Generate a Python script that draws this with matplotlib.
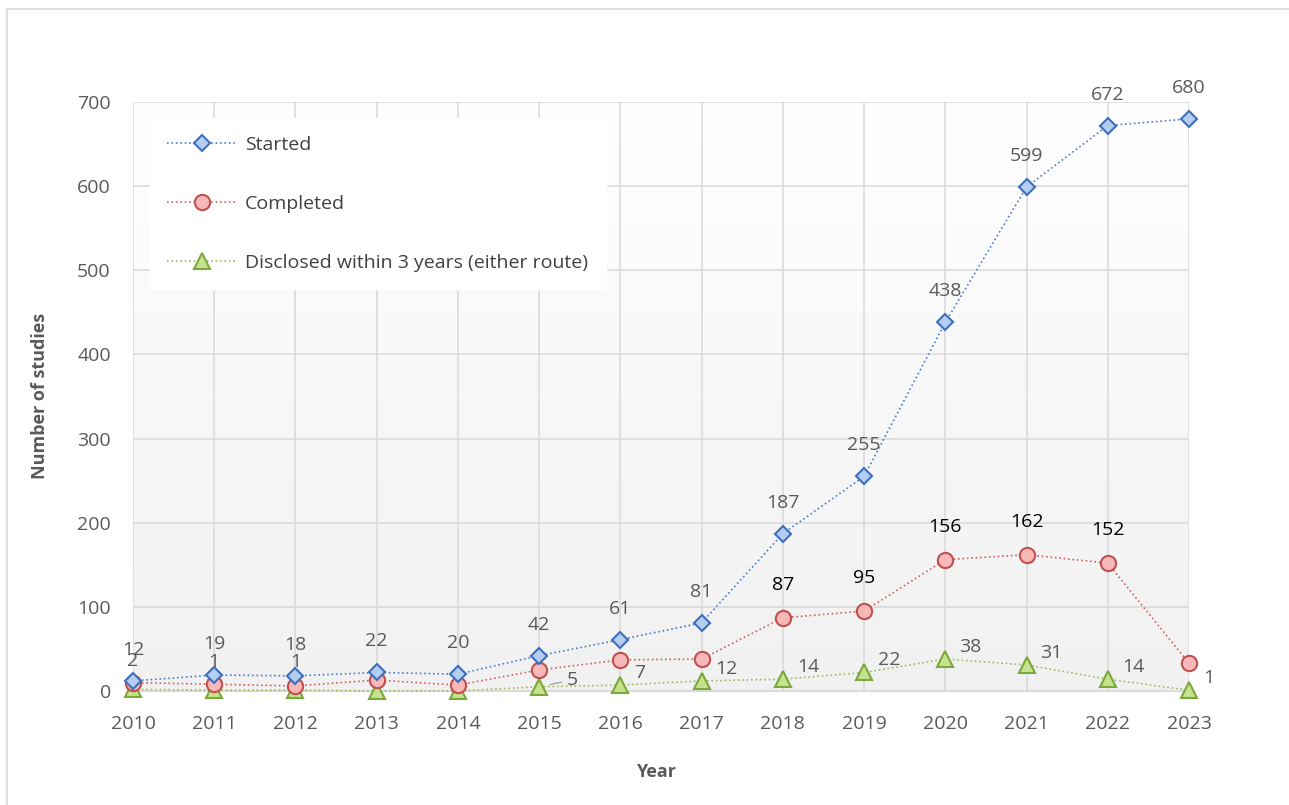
import numpy as np
import matplotlib
matplotlib.use("Agg")
import matplotlib.pyplot as plt
from matplotlib.lines import Line2D

years = [2010, 2011, 2012, 2013, 2014, 2015, 2016, 2017, 2018, 2019, 2020, 2021, 2022, 2023]
started = [12, 19, 18, 22, 20, 42, 61, 81, 187, 255, 438, 599, 672, 680]
completed = [10, 8, 6, 13, 7, 25, 37, 38, 87, 95, 156, 162, 152, 33]
disclosed = [2, 1, 1, 0, 0, 5, 7, 12, 14, 22, 38, 31, 14, 1]
completed_labelled_years = [2018, 2019, 2020, 2021, 2022]
disclosed_above_years = [2010, 2011, 2012]
disclosed_hidden_years = [2013, 2014]
yticks = [0, 100, 200, 300, 400, 500, 600, 700]
series_names = ["Started", "Completed", "Disclosed within 3 years (either route)"]

plt.rcParams['font.family'] = ['Open Sans', 'DejaVu Sans']
W, H = 1289, 805
fig = plt.figure(figsize=(W / 100, H / 100), dpi=100)
ax = fig.add_axes([133 / W, 1 - 691 / H, (1189 - 133) / W, (691 - 102) / H])

# frame lines of chart area
fig.add_artist(Line2D([7 / W, 7 / W], [0, 1 - 9 / H], color='#d9d9d9', lw=1.2))
fig.add_artist(Line2D([7 / W, 1], [1 - 9 / H, 1 - 9 / H], color='#d9d9d9', lw=1.2))

# gradient background
grad = np.linspace(1, 0, 256).reshape(-1, 1)
top = np.array([1.0, 1.0, 1.0])
bot = np.array([0.945, 0.945, 0.945])
img = top[None, None, :] * grad[:, :, None] + bot[None, None, :] * (1 - grad[:, :, None])
ax.imshow(img, extent=[years[0], years[-1], 0, 700], aspect='auto', zorder=0, origin='upper')

ax.set_xlim(years[0], years[-1])
ax.set_ylim(0, 700)
ax.set_xticks(years)
ax.set_yticks(yticks)
ax.grid(True, color='#d9d9d9', lw=1.1, zorder=1)
for s in ax.spines.values():
    s.set_visible(False)
ax.spines['bottom'].set_visible(True)
ax.spines['bottom'].set_color('#d9d9d9')
ax.tick_params(length=0, labelsize=14, labelcolor='#595959')
ax.tick_params(axis='x', pad=17)
ax.tick_params(axis='y', pad=16)

blue_line, blue_edge, blue_face = '#4a7ccc', '#3e6fbf', '#b4cdf0'
red_line, red_edge, red_face = '#d06060', '#c0504d', '#f8b8b8'
green_line, green_edge, green_face = '#9bbb59', '#7aa83a', '#c6e28e'

ax.plot(years, disclosed, ls=':', lw=1.2, color=green_line, marker='^', ms=11,
        mfc=green_face, mec=green_edge, mew=1.5, clip_on=False, zorder=3, label=series_names[2])
ax.plot(years, completed, ls=':', lw=1.2, color=red_line, marker='o', ms=11,
        mfc=red_face, mec=red_edge, mew=1.5, clip_on=False, zorder=4, label=series_names[1])
ax.plot(years, started, ls=':', lw=1.2, color=blue_line, marker='D', ms=8,
        mfc=blue_face, mec=blue_edge, mew=1.5, clip_on=False, zorder=5, label=series_names[0])

lab = dict(fontsize=14, color='#595959', textcoords='offset pixels', annotation_clip=False, zorder=6)
for x, v in zip(years, started):
    ax.annotate(str(v), (x, v), xytext=(0, 31), ha='center', va='center', **lab)
for x, v in zip(years, completed):
    if x in completed_labelled_years:
        ax.annotate(str(v), (x, v), xytext=(0, 33), ha='center', va='center',
                    fontsize=14, color='black', textcoords='offset pixels', zorder=6)
for x, v in zip(years, disclosed):
    if x in disclosed_hidden_years:
        continue
    if x in disclosed_above_years:
        ax.annotate(str(v), (x, v), xytext=(0, 28), ha='center', va='center', **lab)
    elif x == 2015:
        ax.annotate(str(v), (x, v), xytext=(28, 7), ha='left', va='center',
                    arrowprops=dict(arrowstyle='-', color='#a6a6a6', lw=1,
                                    shrinkA=2, shrinkB=8), **lab)
    else:
        ax.annotate(str(v), (x, v), xytext=(14, 12), ha='left', va='center', **lab)

leg = ax.legend(handles=ax.get_lines()[::-1], loc='upper left', bbox_to_anchor=(0.016, 0.972),
                frameon=True, fancybox=False, edgecolor='white', facecolor='white', framealpha=1,
                fontsize=14, labelspacing=2.1, handlelength=3.6, borderpad=0.9,
                handletextpad=0.4, borderaxespad=0)
for t in leg.get_texts():
    t.set_color('#404040')
leg.set_zorder(10)

fig.text(40 / W, 1 - 396 / H, 'Number of studies', rotation=90, ha='center', va='center',
         fontsize=13, fontweight='bold', color='#595959')
fig.text(656 / W, 1 - 772 / H, 'Year', ha='center', va='center',
         fontsize=13, fontweight='bold', color='#595959')

fig.savefig('out.png', dpi=100)
